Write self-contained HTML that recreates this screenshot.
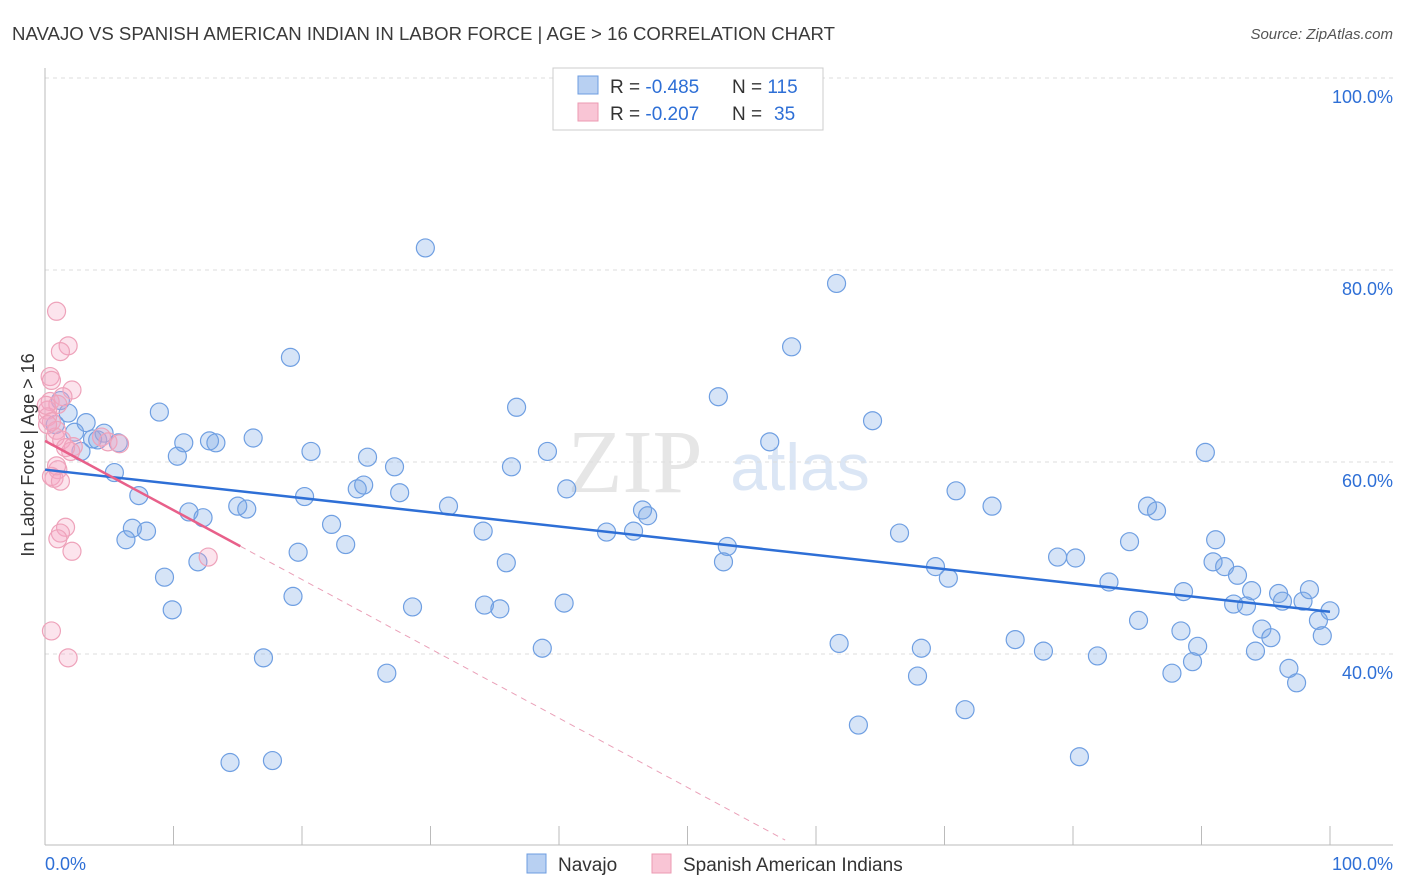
<!DOCTYPE html>
<html><head><meta charset="utf-8">
<style>
body{margin:0;background:#fff;font-family:"Liberation Sans",sans-serif;}
#wrap{position:relative;width:1406px;height:892px;overflow:hidden;}
</style></head>
<body>
<div id="wrap">
<svg id="svg" width="1406" height="892" xmlns="http://www.w3.org/2000/svg">
<text x="12" y="40" font-size="18.6" fill="#3a3a3a" textLength="823">NAVAJO VS SPANISH AMERICAN INDIAN IN LABOR FORCE | AGE &gt; 16 CORRELATION CHART</text>
<text x="1393" y="39" font-size="15" fill="#555" font-style="italic" text-anchor="end">Source: ZipAtlas.com</text>
<text x="635" y="492" font-size="90" fill="#e6e6e6" font-family="Liberation Serif,serif" text-anchor="middle">ZIP</text>
<text x="800" y="490" font-size="66" fill="#dbe6f5" text-anchor="middle">atlas</text>
<g id="grid"></g>
<g id="axes"></g>
<g id="pts"></g>
<g id="trend"></g>
<text transform="translate(34,455) rotate(-90)" font-size="18" fill="#333" text-anchor="middle">In Labor Force | Age &gt; 16</text>
<g>
<rect x="553" y="68" width="270" height="62" fill="#fff" stroke="#ccc"/>
<rect x="578" y="76" width="20" height="18" fill="#b8d0f2" stroke="#6d9ce0"/>
<rect x="578" y="103" width="20" height="18" fill="#f9c5d5" stroke="#ec9ab2"/>
<text x="610" y="93" font-size="19" fill="#333">R = <tspan fill="#2e6fd6">-0.485</tspan></text>
<text x="732" y="93" font-size="19" fill="#333">N = <tspan fill="#2e6fd6">115</tspan></text>
<text x="610" y="120" font-size="19" fill="#333">R = <tspan fill="#2e6fd6">-0.207</tspan></text>
<text x="732" y="120" font-size="19" fill="#333">N = <tspan fill="#2e6fd6" x="774">35</tspan></text>
</g>
<g>
<rect x="527" y="854" width="19" height="19" fill="#b8d0f2" stroke="#6d9ce0"/>
<text x="558" y="871" font-size="19" fill="#333">Navajo</text>
<rect x="652" y="854" width="19" height="19" fill="#f9c5d5" stroke="#ec9ab2"/>
<text x="683" y="871" font-size="19" fill="#333">Spanish American Indians</text>
</g>
<text x="45" y="870" font-size="18" fill="#2e6fd6">0.0%</text>
<text x="1393" y="870" font-size="18" fill="#2e6fd6" text-anchor="end">100.0%</text>
</svg>
</div>
<script>
const navX=[29.6,61.6,58.1,19.1,52.4,36.7,8.9,64.4,1.2,1.8,3.2,0.8,2.3,3.7,4.1,4.6,5.7,2.8,10.8,12.8,13.3,10.3,16.2,20.7,25.1,27.2,36.3,39.1,56.4,90.3,5.4,7.3,24.3,24.8,27.6,40.6,20.2,31.4,46.5,46.9,70.9,73.7,85.8,86.5,15.0,15.7,11.2,12.3,22.3,34.1,43.7,45.8,66.5,6.8,7.9,6.3,23.4,19.7,53.1,84.4,91.1,35.9,52.8,78.8,80.2,69.3,70.3,82.8,90.9,91.8,92.8,11.9,9.3,19.3,88.6,93.9,96.0,96.3,97.9,98.4,92.5,93.5,100,9.9,28.6,34.2,35.4,40.4,85.1,99.1,94.7,95.4,99.4,88.4,75.5,61.8,68.2,77.7,89.7,94.2,81.9,38.7,17.0,89.3,26.6,67.9,87.7,96.8,97.4,71.6,63.3,14.4,17.7,80.5];
const navY=[82.3,78.6,72.0,70.9,66.8,65.7,65.2,64.3,66.4,65.1,64.1,63.9,63.1,62.4,62.3,63.0,62.0,61.1,62.0,62.2,62.0,60.6,62.5,61.1,60.5,59.5,59.5,61.1,62.1,61.0,58.9,56.5,57.2,57.6,56.8,57.2,56.4,55.4,55.0,54.4,57.0,55.4,55.4,54.9,55.4,55.1,54.8,54.2,53.5,52.8,52.7,52.8,52.6,53.1,52.8,51.9,51.4,50.6,51.2,51.7,51.9,49.5,49.6,50.1,50.0,49.1,47.9,47.5,49.6,49.1,48.2,49.6,48.0,46.0,46.5,46.6,46.3,45.5,45.5,46.7,45.2,45.0,44.5,44.6,44.9,45.1,44.7,45.3,43.5,43.5,42.6,41.7,41.9,42.4,41.5,41.1,40.6,40.3,40.8,40.3,39.8,40.6,39.6,39.2,38.0,37.7,38.0,38.5,37.0,34.2,32.6,28.7,28.9,29.3];
const spaX=[0.9,1.8,1.2,0.4,0.5,2.1,1.4,0.4,1.0,0.2,0.2,0.5,0.9,0.8,1.3,2.2,4.4,4.9,5.8,2.0,1.0,0.5,0.7,1.2,1.6,1.2,1.0,2.1,12.7,0.5,1.8,0.1,0.2,1.6,0.9];
const spaY=[75.7,72.1,71.5,68.9,68.5,67.5,66.8,66.3,66.0,65.4,64.7,64.2,63.3,62.6,62.3,61.6,62.6,62.1,61.9,61.1,59.2,58.5,58.3,58.0,53.2,52.6,52.0,50.7,50.1,42.4,39.6,65.9,63.9,61.5,59.6];
const navTrend=[59.2,44.4];
const spaTrend=[62.2,-0.722];
const spaSolidEnd=15.2, spaDashEnd=57.6;
const yTicks=[100,80,60,40];
const xTicks=[0,10,20,30,40,50,60,70,80,90,100];

const NS="http://www.w3.org/2000/svg";
const sx=v=>45+v*12.85, sy=v=>78+(100-v)*9.6;
function mk(tag,attrs,parent){const e=document.createElementNS(NS,tag);for(const k in attrs)e.setAttribute(k,attrs[k]);parent.appendChild(e);return e;}
const grid=document.getElementById('grid'),axes=document.getElementById('axes'),pts=document.getElementById('pts'),trend=document.getElementById('trend');
yTicks.forEach(t=>{
  const l=mk('line',{x1:45,x2:1393,y1:sy(t),y2:sy(t),stroke:'#ddd','stroke-dasharray':'4,4'},grid);
  
  
  const tx=mk('text',{x:1393,y:sy(t)+25,'font-size':18,fill:'#2e6fd6','text-anchor':'end'},grid);
  tx.textContent=t.toFixed(1)+'%';
  
  
});
const ax=mk('line',{x1:45,x2:1393,y1:845,y2:845,stroke:'#bbb'},axes);


const ay=mk('line',{x1:45,x2:45,y1:68,y2:845,stroke:'#bbb'},axes);


xTicks.forEach(t=>{
  const l=mk('line',{x1:sx(t),x2:sx(t),y1:826,y2:845,stroke:'#bbb'},axes);
  
  
});
navX.forEach((x,i)=>{
  const c=mk('circle',{cx:sx(x),cy:sy(navY[i]),r:9,fill:'rgba(120,165,230,0.3)',stroke:'#6f9fe2','stroke-width':1.2},pts);
  
  
});
spaX.forEach((x,i)=>{
  const c=mk('circle',{cx:sx(x),cy:sy(spaY[i]),r:9,fill:'rgba(245,165,195,0.3)',stroke:'#eea2ba','stroke-width':1.2},pts);
  
  
});
const bl=mk('line',{x1:sx(0),y1:sy(navTrend[0]),x2:sx(100),y2:sy(navTrend[1]),stroke:'#2e6fd6','stroke-width':2.5},trend);


const pf=x=>spaTrend[0]+spaTrend[1]*x;
const pl=mk('line',{x1:sx(0),y1:sy(pf(0)),x2:sx(spaSolidEnd),y2:sy(pf(spaSolidEnd)),stroke:'#e8608a','stroke-width':2.5},trend);


const pd=mk('line',{x1:sx(spaSolidEnd),y1:sy(pf(spaSolidEnd)),x2:sx(spaDashEnd),y2:sy(pf(spaDashEnd)),stroke:'#eaa0b8','stroke-width':1,'stroke-dasharray':'6,5'},trend);


</script>
</body></html>
